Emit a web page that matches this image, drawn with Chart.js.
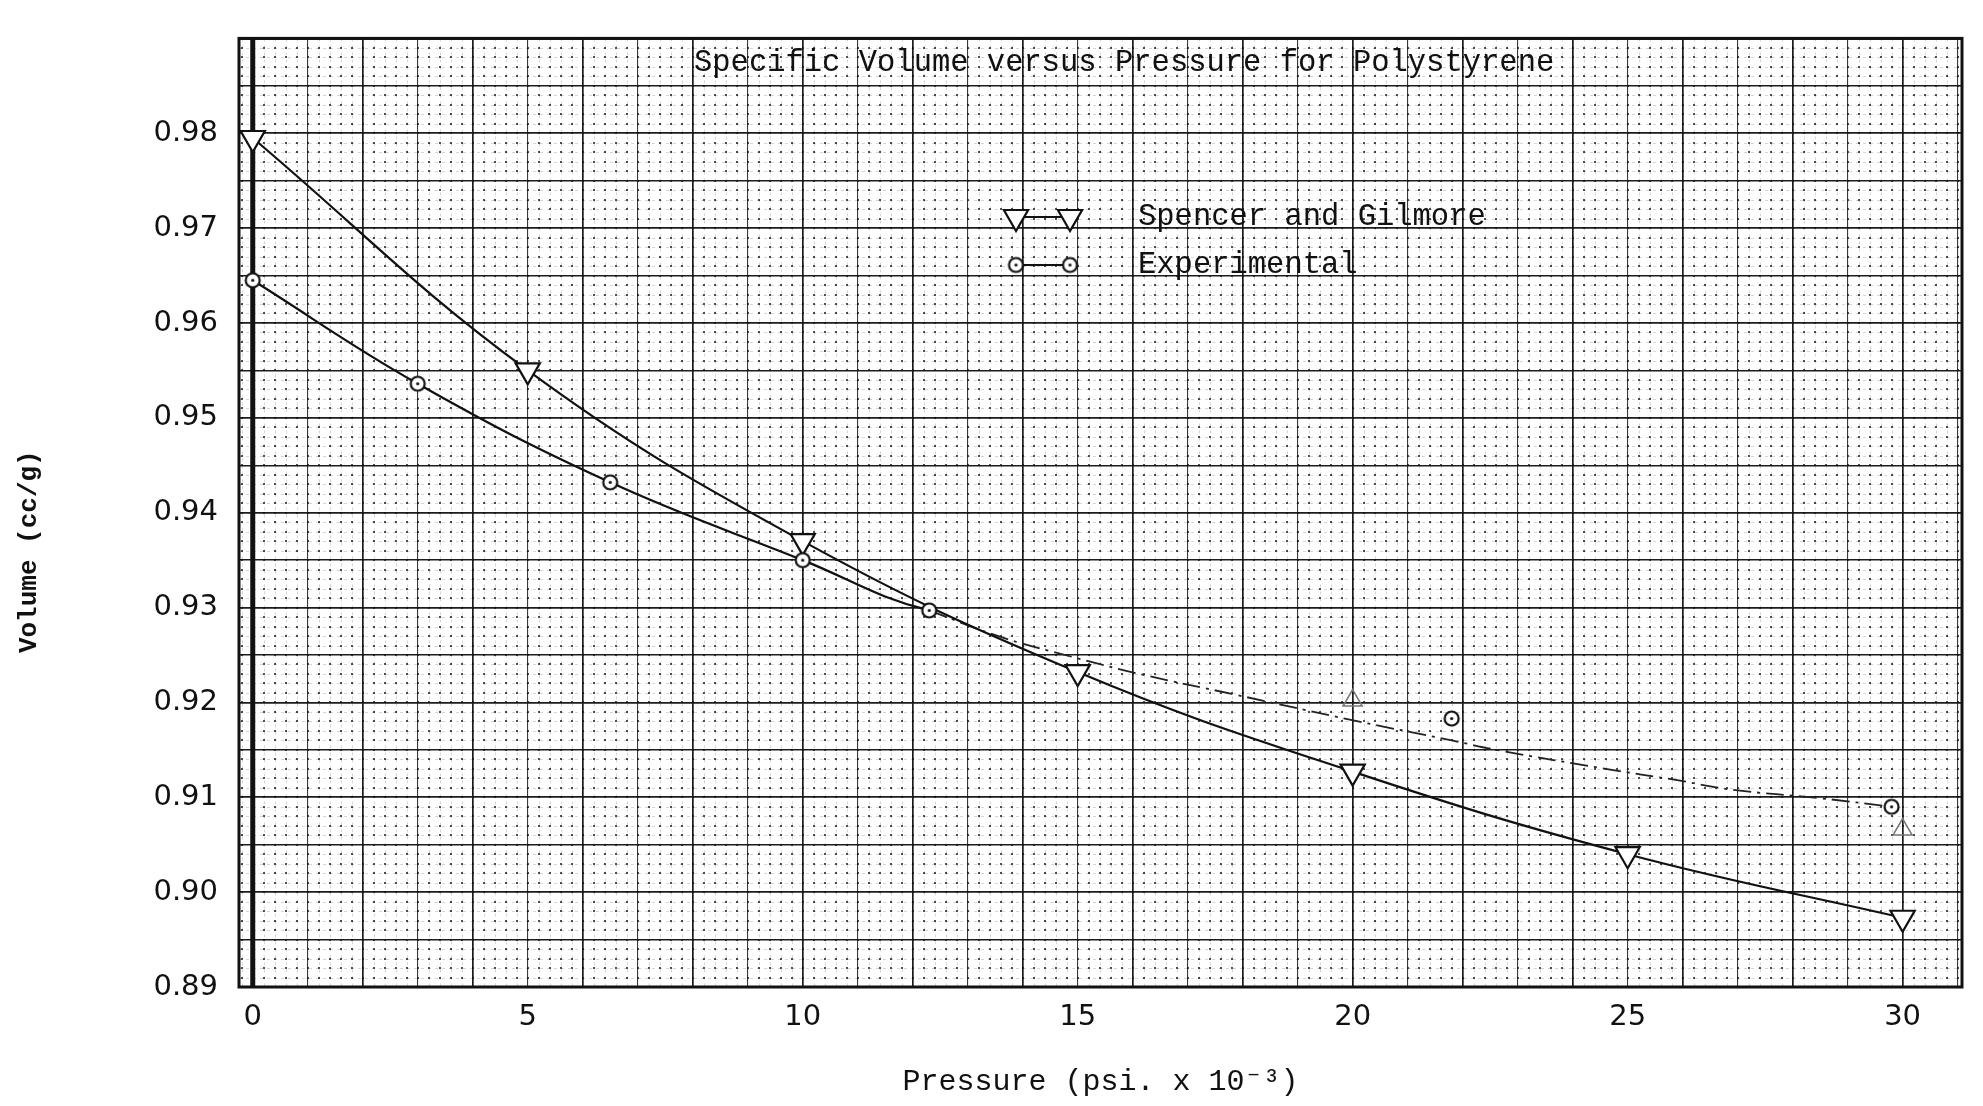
<!DOCTYPE html>
<html><head><meta charset="utf-8">
<script src="https://cdn.jsdelivr.net/npm/chart.js@4.4.1/dist/chart.umd.min.js"></script>
<style>html,body{margin:0;padding:0;background:#fff;}#wrap{width:1983px;height:1106px;position:relative;}</style>
</head><body><div id="wrap"><canvas id="c" width="1983" height="1106"></canvas></div>
<script>
// ---- data ----
const chartTitle = 'Specific Volume versus Pressure for Polystyrene';
const xAxisTitle = 'Pressure (psi. x 10\u207B\u00B3)';
const yAxisTitle = 'Volume (cc/g)';
const xTickLabels = [0, 5, 10, 15, 20, 25, 30];
const yTickLabels = [0.89, 0.90, 0.91, 0.92, 0.93, 0.94, 0.95, 0.96, 0.97, 0.98];

const spencerLabel = 'Spencer and Gilmore';
const spencerX = [0, 5, 10, 15, 20, 25, 30];
const spencerY = [0.9795, 0.955, 0.937, 0.9232, 0.9127, 0.904, 0.8973];

const expLabel = 'Experimental';
const expX = [0, 3, 6.5, 10, 12.3, 21.8, 29.8];
const expY = [0.9645, 0.9536, 0.9432, 0.935, 0.9297, 0.9183, 0.909];

// dash-dot curve drawn through the high-pressure experimental points
const expCurveX = [12.3, 13.6, 14.9, 16.2, 17.8, 20.1, 21.8, 22.7, 24.6, 25.9, 26.9, 28.5, 29.8];
const expCurveY = [0.9297, 0.9269, 0.9248, 0.9229, 0.9209, 0.9180, 0.9160, 0.9149, 0.9130, 0.9118, 0.9108, 0.9099, 0.9090];

// faint pencil marks on the sheet
const pencilX = [20, 30];
const pencilY = [0.9202, 0.9066];

const toXY = (xs, ys) => xs.map((x, i) => ({x: x, y: ys[i]}));

// circle-with-dot marker
function makeCircleMarker(r, lw) {
  const s = Math.ceil(2 * r + lw + 4);
  const c = document.createElement('canvas');
  c.width = s; c.height = s;
  const g = c.getContext('2d');
  g.beginPath(); g.arc(s / 2, s / 2, r, 0, Math.PI * 2);
  g.fillStyle = '#fff'; g.fill();
  g.lineWidth = lw; g.strokeStyle = '#111'; g.stroke();
  g.beginPath(); g.arc(s / 2, s / 2, 1.6, 0, Math.PI * 2);
  g.fillStyle = '#111'; g.fill();
  return c;
}
const circleMarker = makeCircleMarker(7, 2.2);

const INK = '#111';

const paperPlugin = {
  id: 'paper',
  beforeDatasetsDraw(chart) {
    const {ctx, chartArea: a, scales: {x, y}} = chart;
    ctx.save();
    ctx.beginPath(); ctx.rect(a.left, a.top, a.right - a.left, a.bottom - a.top); ctx.clip();
    // minor faint lines
    ctx.strokeStyle = 'rgba(0,0,0,0.16)';
    ctx.lineWidth = 1;
    ctx.setLineDash([3, 4]);
    for (let i = -1; i <= 156; i++) {
      if (i % 5 === 0) continue;
      const px = Math.round(x.getPixelForValue(i / 5)) + 0.5;
      ctx.beginPath(); ctx.moveTo(px, a.top); ctx.lineTo(px, a.bottom); ctx.stroke();
    }
    for (let j = 890; j <= 990; j++) {
      if (j % 5 === 0) continue;
      const py = Math.round(y.getPixelForValue(j / 1000)) + 0.5;
      ctx.beginPath(); ctx.moveTo(a.left, py); ctx.lineTo(a.right, py); ctx.stroke();
    }
    ctx.setLineDash([]);
    // dots at minor intersections
    ctx.fillStyle = 'rgba(20,20,20,0.75)';
    for (let i = -1; i <= 156; i++) {
      const px = Math.round(x.getPixelForValue(i / 5));
      for (let j = 890; j <= 990; j++) {
        const py = Math.round(y.getPixelForValue(j / 1000));
        ctx.fillRect(px - 1, py - 1, 2, 2);
      }
    }
    ctx.restore();
    // frame
    ctx.save();
    ctx.strokeStyle = INK;
    ctx.lineWidth = 3;
    ctx.strokeRect(a.left, a.top, a.right - a.left, a.bottom - a.top);
    // heavy y-axis at x = 0
    const x0 = x.getPixelForValue(0);
    ctx.lineWidth = 5;
    ctx.beginPath(); ctx.moveTo(x0, a.top); ctx.lineTo(x0, a.bottom + 1); ctx.stroke();
    ctx.restore();
  },
  afterDatasetsDraw(chart) {
    const {ctx} = chart;
    ctx.save();
    ctx.fillStyle = INK;
    ctx.font = '30.5px "Liberation Mono", "DejaVu Sans Mono", monospace';
    ctx.textBaseline = 'middle';
    ctx.textAlign = 'left';
    ctx.fillText(chartTitle, 694, 63);
    // legend
    const rows = [
      {ds: chart.data.datasets[0], y: 217, kind: 'tri'},
      {ds: chart.data.datasets[1], y: 265, kind: 'circ'}
    ];
    rows.forEach(r => {
      const m1 = 1016, m2 = 1070, tx = 1138;
      ctx.strokeStyle = INK; ctx.lineWidth = 2.2;
      ctx.beginPath(); ctx.moveTo(m1, r.y); ctx.lineTo(m2, r.y); ctx.stroke();
      [m1, m2].forEach(mx => {
        if (r.kind === 'tri') {
          const R = 14;
          ctx.beginPath();
          ctx.moveTo(mx, r.y + R);
          ctx.lineTo(mx - R * Math.sin(Math.PI / 3), r.y - R / 2);
          ctx.lineTo(mx + R * Math.sin(Math.PI / 3), r.y - R / 2);
          ctx.closePath();
          ctx.fillStyle = '#fff'; ctx.fill();
          ctx.lineWidth = 2.2; ctx.stroke();
        } else {
          ctx.drawImage(circleMarker, mx - circleMarker.width / 2, r.y - circleMarker.height / 2);
        }
      });
      ctx.fillStyle = INK;
      ctx.fillText(r.ds.label, tx, r.y);
    });
    ctx.restore();
  }
};

const chart = new Chart(document.getElementById('c'), {
  type: 'scatter',
  data: {
    datasets: [
      {
        label: spencerLabel,
        data: toXY(spencerX, spencerY),
        showLine: true,
        tension: 0.4,
        borderColor: INK, borderWidth: 2.2,
        pointStyle: 'triangle', pointRotation: 180, pointRadius: 14,
        pointBackgroundColor: '#fff', pointBorderColor: INK, pointBorderWidth: 2.2,
        clip: false, order: 1
      },
      {
        label: expLabel,
        data: toXY(expX, expY),
        showLine: true,
        tension: 0.4,
        borderColor: INK, borderWidth: 2.2,
        segment: { borderColor: c => c.p0DataIndex >= 4 ? 'rgba(0,0,0,0)' : INK },
        pointStyle: circleMarker, pointRadius: 8,
        clip: false, order: 0
      },
      {
        label: 'Experimental (high-pressure curve)',
        data: toXY(expCurveX, expCurveY),
        showLine: true,
        tension: 0.4,
        borderColor: '#222', borderWidth: 1.8,
        borderDash: [18, 6, 3, 6],
        pointRadius: 0,
        clip: false, order: 2
      },
      {
        label: 'pencil marks',
        data: toXY(pencilX, pencilY),
        showLine: false,
        pointStyle: 'triangle', pointRadius: 11,
        pointBackgroundColor: 'rgba(0,0,0,0)', pointBorderColor: '#777', pointBorderWidth: 1.5,
        clip: false, order: 3
      }
    ]
  },
  options: {
    responsive: false,
    animation: false,
    events: [],
    layout: { padding: { left: 0, right: 21, top: 25, bottom: 0 } },
    plugins: { legend: { display: false }, tooltip: { enabled: false }, title: { display: false } },
    scales: {
      x: {
        type: 'linear', min: -0.25, max: 31.08,
        afterBuildTicks: s => { const t = []; for (let v = 0; v <= 31; v++) t.push({value: v}); s.ticks = t; },
        afterFit: s => { s.height = 119; },
        ticks: {
          autoSkip: false, maxRotation: 0, padding: 13, color: INK,
          font: { family: '"DejaVu Sans", sans-serif', size: 29 },
          callback: v => xTickLabels.includes(v) ? String(v) : ''
        },
        grid: {
          drawTicks: false,
          color: c => (c.tick && c.tick.value % 2 === 0) ? '#1c1c1c' : '#3a3a3a',
          lineWidth: c => (c.tick && c.tick.value % 2 === 0) ? 1.7 : 1.1
        },
        border: { display: false },
        title: {
          display: true, text: xAxisTitle, color: INK,
          font: { family: '"Liberation Mono", "DejaVu Sans Mono", monospace', size: 30 },
          padding: { top: 0, bottom: 6 }
        }
      },
      y: {
        type: 'linear', min: 0.89, max: 0.99,
        afterBuildTicks: s => { const t = []; for (let j = 890; j <= 990; j += 5) t.push({value: j / 1000}); s.ticks = t; },
        afterFit: s => { s.width = 239; },
        ticks: {
          autoSkip: false, padding: 21, color: INK,
          font: { family: '"DejaVu Sans", sans-serif', size: 29 },
          callback: v => yTickLabels.some(t => Math.abs(t - v) < 1e-6) ? v.toFixed(2) : ''
        },
        grid: {
          drawTicks: false,
          color: '#1c1c1c',
          lineWidth: c => (c.tick && Math.round(c.tick.value * 1000) % 10 === 0) ? 1.8 : 1.4
        },
        border: { display: false },
        title: {
          display: true, text: yAxisTitle + '     ', color: INK,
          font: { family: '"Liberation Mono", "DejaVu Sans Mono", monospace', size: 26, weight: 'bold' },
          padding: { top: 14, bottom: 0 }
        }
      }
    }
  },
  plugins: [paperPlugin]
});
</script>
</body></html>
